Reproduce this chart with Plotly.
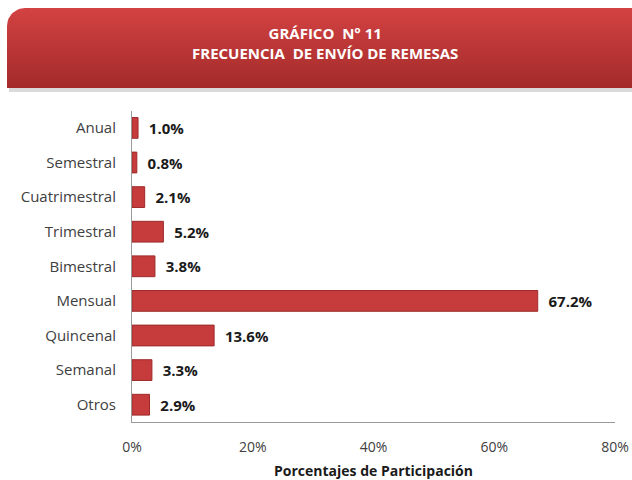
import numpy as np
import plotly.graph_objects as go

categorias = ["Anual", "Semestral", "Cuatrimestral", "Trimestral", "Bimestral",
              "Mensual", "Quincenal", "Semanal", "Otros"]
porcentajes = [1.0, 0.8, 2.1, 5.2, 3.8, 67.2, 13.6, 3.3, 2.9]
ticks_x = [0, 20, 40, 60, 80]
titulo = "GRÁFICO  N° 11<br>FRECUENCIA  DE ENVÍO DE REMESAS"
titulo_eje = "Porcentajes de Participación"

W, H = 632, 480
FONT = "'Open Sans', Lato, sans-serif"


def banner_outline(x0, y0, x1, y1, r):
    # top-left rounded corner, other corners square
    ang = np.linspace(np.pi, 1.5 * np.pi, 12)
    xs = list(x0 + r + r * np.cos(ang)) + [x1, x1, x0, x0]
    ys = list(y0 + r + r * np.sin(ang)) + [y0, y1, y1, y0 + r]
    return xs, ys


fig = go.Figure()

fig.add_trace(go.Bar(
    x=porcentajes, y=categorias, orientation="h",
    marker=dict(color="#C63C3C", line=dict(color="#9E2A2A", width=1)),
    text=[f"  {v:.1f}%" for v in porcentajes],
    textposition="outside", cliponaxis=False,
    textfont=dict(family=FONT, size=15, color="#1a1a1a", weight="bold"),
    width=0.6, hoverinfo="skip", showlegend=False,
))

# banner shadow + gradient body on an overlay axis covering the whole page
sx, sy = banner_outline(9, 11, 640, 92, 18)
fig.add_trace(go.Scatter(
    x=sx, y=sy, xaxis="x2", yaxis="y2", mode="lines", fill="toself",
    fillcolor="rgba(150,150,150,0.35)", line=dict(width=0),
    hoverinfo="skip", showlegend=False,
))
bx, by = banner_outline(7, 8, 640, 88, 18)
fig.add_trace(go.Scatter(
    x=bx, y=by, xaxis="x2", yaxis="y2", mode="lines", fill="toself",
    fillgradient=dict(type="vertical", start=8, stop=88,
                      colorscale=[[0, "#D34242"], [1, "#A32A2A"]]),
    line=dict(width=0), hoverinfo="skip", showlegend=False,
))

fig.add_annotation(
    x=325 / W, y=1 - 43 / H, xref="paper", yref="paper",
    xanchor="center", yanchor="middle",
    text=titulo, showarrow=False, align="center",
    font=dict(family=FONT, size=15, color="white", weight="bold"),
)

fig.update_layout(
    width=W, height=H,
    margin=dict(l=0, r=0, t=0, b=0),
    plot_bgcolor="rgba(0,0,0,0)", paper_bgcolor="white",
    xaxis=dict(
        domain=[132 / W, 615 / W], range=[0, 80],
        tickvals=ticks_x, ticktext=[f"{t}%" for t in ticks_x],
        showgrid=False, zeroline=False, showline=True,
        linecolor="#9a9a9a", linewidth=1, ticks="", ticklabelstandoff=12,
        tickfont=dict(family=FONT, size=14, color="#404040"),
        title=dict(text=titulo_eje, standoff=12,
                   font=dict(family=FONT, size=14, color="#1a1a1a", weight="bold")),
        automargin=False,
    ),
    yaxis=dict(
        domain=[58 / H, 369.4 / H], autorange="reversed",
        showgrid=False, zeroline=False, showline=True,
        linecolor="#9a9a9a", linewidth=1, ticks="", ticklabelstandoff=12,
        tickfont=dict(family=FONT, size=15, color="#404040"),
        automargin=False,
    ),
    xaxis2=dict(domain=[0, 1], range=[0, W], visible=False, anchor="y2",
                fixedrange=True),
    yaxis2=dict(domain=[0, 1], range=[H, 0], visible=False, anchor="x2",
                fixedrange=True),
)

fig.write_html("out.html", config={"displayModeBar": False},
               post_script="document.body.style.margin='0';")
